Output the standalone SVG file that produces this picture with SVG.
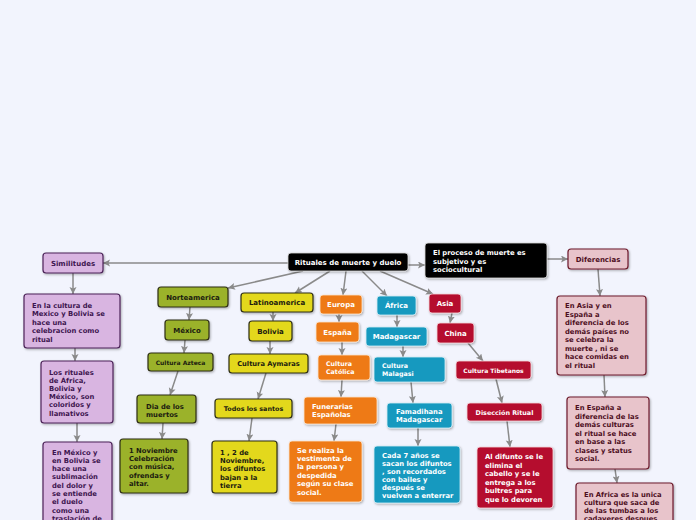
<svg xmlns="http://www.w3.org/2000/svg" width="696" height="520" viewBox="0 0 696 520">
<defs>
<style>
text{font-family:"DejaVu Sans","Verdana",sans-serif;font-weight:bold;font-size:6.8px}
.t{font-size:7px;text-anchor:middle}
.w{fill:#ffffff}
.d{fill:#1c1c10}
.pu{fill:#3e1650}
.pk{fill:#4e0f1e}
.blk{fill:#000000;stroke:#d8d8d8;stroke-width:0.8}
.ol{fill:#9bb22b;stroke:#2e2e14;stroke-width:1.2}
.ye{fill:#e3d81f;stroke:#2e2e14;stroke-width:1.2}
.lv{fill:#d9b5e1;stroke:#4b2258;stroke-width:1.2}
.pn{fill:#e8c4cb;stroke:#6d1a2c;stroke-width:1.2}
.or{fill:#ee7a12;stroke:#fbe6d2;stroke-width:0.8}
.te{fill:#1699bf;stroke:#d4eef6;stroke-width:0.8}
.cr{fill:#b50f2e;stroke:#f5d6dc;stroke-width:0.8}
#connectors line{stroke:#8a8a8a;stroke-width:1.5;marker-end:url(#ah)}
rect{filter:url(#sh)}
</style>
<filter id="sh" x="-10%" y="-10%" width="130%" height="140%">
<feDropShadow dx="1" dy="1.2" stdDeviation="0.8" flood-color="#000" flood-opacity="0.3"/>
</filter>
<marker id="ah" markerUnits="userSpaceOnUse" markerWidth="8" markerHeight="8" refX="7" refY="3.5" orient="auto">
<path d="M0,0 L7,3.5 L0,7 L1.5,3.5 z" fill="#8a8a8a"/>
</marker>
</defs>
<rect width="696" height="520" fill="#f2f4fd" style="filter:none"/>

<g id="connectors">
<line x1="288" y1="263" x2="103" y2="263"/>
<line x1="408" y1="265" x2="425" y2="265"/>
<line x1="547" y1="259" x2="568" y2="259"/>
<line x1="303" y1="271" x2="228" y2="288"/>
<line x1="330" y1="271" x2="295" y2="293"/>
<line x1="346" y1="271" x2="343" y2="295"/>
<line x1="362" y1="271" x2="387" y2="296"/>
<line x1="380" y1="271" x2="433" y2="294"/>
<line x1="73" y1="273" x2="73" y2="294"/>
<line x1="75" y1="348" x2="75" y2="361"/>
<line x1="77" y1="423" x2="77" y2="442"/>
<line x1="190" y1="307" x2="189" y2="320"/>
<line x1="185" y1="340" x2="184" y2="353"/>
<line x1="178" y1="371" x2="170" y2="395"/>
<line x1="163" y1="423" x2="162" y2="439"/>
<line x1="273" y1="312" x2="273" y2="321"/>
<line x1="270" y1="341" x2="270" y2="354"/>
<line x1="266" y1="373" x2="258" y2="399"/>
<line x1="252" y1="418" x2="249" y2="441"/>
<line x1="339" y1="314" x2="339" y2="322"/>
<line x1="342" y1="342" x2="342" y2="355"/>
<line x1="342" y1="380" x2="341" y2="397"/>
<line x1="336" y1="424" x2="334" y2="441"/>
<line x1="397" y1="315" x2="397" y2="327"/>
<line x1="403" y1="346" x2="403" y2="357"/>
<line x1="411" y1="382" x2="413" y2="403"/>
<line x1="418" y1="428" x2="418" y2="446"/>
<line x1="452" y1="313" x2="450" y2="323"/>
<line x1="468" y1="343" x2="483" y2="361"/>
<line x1="496" y1="379" x2="502" y2="403"/>
<line x1="507" y1="421" x2="510" y2="447"/>
<line x1="598" y1="269" x2="600" y2="296"/>
<line x1="604" y1="375" x2="605" y2="397"/>
<line x1="615" y1="469" x2="617" y2="483"/>
</g>

<g id="root"><rect class="blk" x="288" y="253" width="120" height="18" rx="3"/><text class="t w" x="348" y="264.5">Rituales de muerte y duelo</text></g>
<g id="proceso"><rect class="blk" x="425" y="243" width="122" height="35" rx="3"/><text class="w"><tspan x="433" y="255">El proceso de muerte es</tspan><tspan x="433" dy="8.5">subjetivo y es</tspan><tspan x="433" dy="8.5">sociocultural</tspan></text></g>
<g id="diferencias"><rect class="pn" x="568" y="249" width="60" height="20" rx="3"/><text class="t pk" x="598" y="261.5">Diferencias</text></g>
<g id="similitudes"><rect class="lv" x="43" y="253" width="60" height="20" rx="3"/><text class="t pu" x="73" y="265.5">Similitudes</text></g>

<g id="sim1"><rect class="lv" x="24" y="294" width="96" height="54" rx="3"/><text class="pu"><tspan x="32" y="307.5">En la cultura de</tspan><tspan x="32" dy="8.5">Mexico y Bolivia se</tspan><tspan x="32" dy="8.5">hace una</tspan><tspan x="32" dy="8.5">celebracion como</tspan><tspan x="32" dy="8.5">ritual</tspan></text></g>
<g id="sim2"><rect class="lv" x="41" y="361" width="72" height="62" rx="3"/><text class="pu"><tspan x="49" y="374.5">Los rituales</tspan><tspan x="49" dy="8.2">de África,</tspan><tspan x="49" dy="8.2">Bolivia y</tspan><tspan x="49" dy="8.2">México, son</tspan><tspan x="49" dy="8.2">coloridos y</tspan><tspan x="49" dy="8.2">llamativos</tspan></text></g>
<g id="sim3"><rect class="lv" x="43" y="442" width="69" height="92" rx="3"/><text class="pu"><tspan x="52" y="454.5">En México y</tspan><tspan x="52" dy="8.3">en Bolivia se</tspan><tspan x="52" dy="8.3">hace una</tspan><tspan x="52" dy="8.3">sublimación</tspan><tspan x="52" dy="8.3">del dolor y</tspan><tspan x="52" dy="8.3">se entiende</tspan><tspan x="52" dy="8.3">el duelo</tspan><tspan x="52" dy="8.3">como una</tspan><tspan x="52" dy="8.3">traslación de</tspan></text></g>

<g id="norteamerica"><rect class="ol" x="158" y="287" width="70" height="20" rx="3"/><text class="t d" x="193" y="299.5">Norteamerica</text></g>
<g id="mexico"><rect class="ol" x="165" y="320" width="44" height="20" rx="3"/><text class="t d" x="187" y="332.5">México</text></g>
<g id="azteca"><rect class="ol" x="148" y="353" width="65" height="18" rx="3"/><text class="t d" x="180.5" y="364.5" style="font-size:6px">Cultura Azteca</text></g>
<g id="dia"><rect class="ol" x="137" y="395" width="59" height="28" rx="3"/><text class="d"><tspan x="146" y="408.5">Dia de los</tspan><tspan x="146" dy="8.3">muertos</tspan></text></g>
<g id="nov1"><rect class="ol" x="120" y="439" width="68" height="54" rx="3"/><text class="d"><tspan x="129" y="452.5">1 Noviembre</tspan><tspan x="129" dy="8.4">Celebración</tspan><tspan x="129" dy="8.4">con música,</tspan><tspan x="129" dy="8.4">ofrendas y</tspan><tspan x="129" dy="8.4">altar.</tspan></text></g>

<g id="latinoamerica"><rect class="ye" x="241" y="293" width="72" height="19" rx="3"/><text class="t d" x="277" y="305">Latinoamerica</text></g>
<g id="bolivia"><rect class="ye" x="249" y="321" width="43" height="20" rx="3"/><text class="t d" x="270.5" y="333.5">Bolivia</text></g>
<g id="aymaras"><rect class="ye" x="229" y="354" width="79" height="19" rx="3"/><text class="t d" x="268.5" y="366" style="font-size:6.7px">Cultura Aymaras</text></g>
<g id="todos"><rect class="ye" x="215" y="399" width="77" height="19" rx="3"/><text class="t d" x="253.5" y="411" style="font-size:6.4px">Todos los santos</text></g>
<g id="nov12"><rect class="ye" x="212" y="441" width="65" height="52" rx="3"/><text class="d"><tspan x="220" y="454.5">1 , 2 de</tspan><tspan x="220" dy="8.4">Noviembre,</tspan><tspan x="220" dy="8.4">los difuntos</tspan><tspan x="220" dy="8.4">bajan a la</tspan><tspan x="220" dy="8.4">tierra</tspan></text></g>

<g id="europa"><rect class="or" x="320" y="295" width="42" height="19" rx="3"/><text class="t w" x="341" y="307">Europa</text></g>
<g id="espana"><rect class="or" x="316" y="322" width="43" height="20" rx="3"/><text class="t w" x="337.5" y="334.5">España</text></g>
<g id="catolica"><rect class="or" x="318" y="355" width="52" height="25" rx="3"/><text class="w" style="font-size:6.3px"><tspan x="326" y="365.5">Cultura</tspan><tspan x="326" dy="8">Católica</tspan></text></g>
<g id="funerarias"><rect class="or" x="304" y="397" width="73" height="27" rx="3"/><text class="w"><tspan x="312" y="409">Funerarias</tspan><tspan x="312" dy="8">Españolas</tspan></text></g>
<g id="vestimenta"><rect class="or" x="289" y="441" width="73" height="61" rx="3"/><text class="w"><tspan x="297" y="452.5">Se realiza la</tspan><tspan x="297" dy="8.4">vestimenta de</tspan><tspan x="297" dy="8.4">la persona y</tspan><tspan x="297" dy="8.4">despedida</tspan><tspan x="297" dy="8.4">según su clase</tspan><tspan x="297" dy="8.4">social.</tspan></text></g>

<g id="africa"><rect class="te" x="377" y="296" width="39" height="19" rx="3"/><text class="t w" x="396.5" y="308">África</text></g>
<g id="madagascar"><rect class="te" x="366" y="327" width="61" height="19" rx="3"/><text class="t w" x="396.5" y="339">Madagascar</text></g>
<g id="malagasi"><rect class="te" x="374" y="357" width="71" height="25" rx="3"/><text class="w" style="font-size:6.3px"><tspan x="382" y="367.5">Cultura</tspan><tspan x="382" dy="8">Malagasi</tspan></text></g>
<g id="famadihana"><rect class="te" x="387" y="403" width="65" height="25" rx="3"/><text class="w"><tspan x="396" y="414">Famadihana</tspan><tspan x="396" dy="8.3">Madagascar</tspan></text></g>
<g id="cada7"><rect class="te" x="374" y="446" width="86" height="57" rx="3"/><text class="w"><tspan x="382" y="457.5">Cada 7 años se</tspan><tspan x="382" dy="8">sacan los difuntos</tspan><tspan x="382" dy="8">, son recordados</tspan><tspan x="382" dy="8">con bailes  y</tspan><tspan x="382" dy="8">después se</tspan><tspan x="382" dy="8">vuelven a enterrar</tspan></text></g>

<g id="asia"><rect class="cr" x="429" y="294" width="32" height="19" rx="3"/><text class="t w" x="445" y="306">Asia</text></g>
<g id="china"><rect class="cr" x="437" y="323" width="37" height="20" rx="3"/><text class="t w" x="455.5" y="335.5">China</text></g>
<g id="tibetanos"><rect class="cr" x="456" y="361" width="75" height="18" rx="3"/><text class="t w" x="493.5" y="372.5" style="font-size:6px">Cultura Tibetanos</text></g>
<g id="diseccion"><rect class="cr" x="467" y="403" width="75" height="18" rx="3"/><text class="t w" x="504.5" y="414.5" style="font-size:6.4px">Disección Ritual</text></g>
<g id="difunto"><rect class="cr" x="477" y="447" width="76" height="61" rx="3"/><text class="w"><tspan x="485" y="459">Al difunto se le</tspan><tspan x="485" dy="8.6">elimina el</tspan><tspan x="485" dy="8.6">cabello y se le</tspan><tspan x="485" dy="8.6">entrega a los</tspan><tspan x="485" dy="8.6">bultres para</tspan><tspan x="485" dy="8.6">que lo devoren</tspan></text></g>

<g id="dif1"><rect class="pn" x="557" y="296" width="89" height="79" rx="3"/><text class="pk"><tspan x="565" y="308">En Asia y en</tspan><tspan x="565" dy="8.5">España a</tspan><tspan x="565" dy="8.5">diferencia de los</tspan><tspan x="565" dy="8.5">demás países no</tspan><tspan x="565" dy="8.5">se celebra la</tspan><tspan x="565" dy="8.5">muerte , ni se</tspan><tspan x="565" dy="8.5">hace comidas en</tspan><tspan x="565" dy="8.5">el ritual</tspan></text></g>
<g id="dif2"><rect class="pn" x="567" y="397" width="82" height="72" rx="3"/><text class="pk"><tspan x="575" y="410">En España a</tspan><tspan x="575" dy="8.5">diferencia de las</tspan><tspan x="575" dy="8.5">demás culturas</tspan><tspan x="575" dy="8.5">el ritual se hace</tspan><tspan x="575" dy="8.5">en base a las</tspan><tspan x="575" dy="8.5">clases y status</tspan><tspan x="575" dy="8.5">social.</tspan></text></g>
<g id="dif3"><rect class="pn" x="576" y="483" width="97" height="60" rx="3"/><text class="pk"><tspan x="584" y="496.5">En Africa es la unica</tspan><tspan x="584" dy="8.3">cultura que saca de</tspan><tspan x="584" dy="8.3">de las tumbas a los</tspan><tspan x="584" dy="8.3">cadaveres despues</tspan></text></g>
</svg>
